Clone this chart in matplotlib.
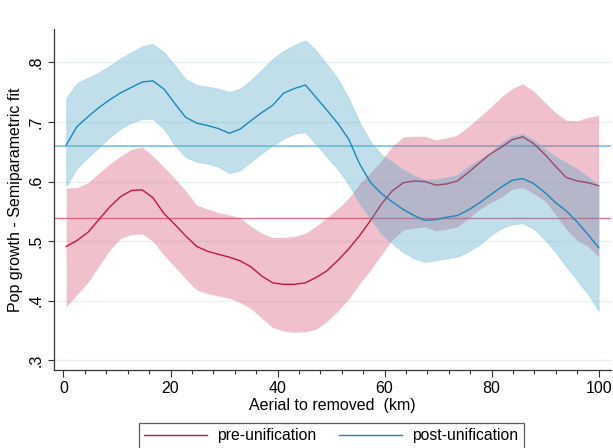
import matplotlib
matplotlib.use('Agg')
import numpy as np
import matplotlib.pyplot as plt
from matplotlib.lines import Line2D

plt.rcParams['font.family'] = ['Liberation Sans', 'DejaVu Sans']

# distance grid (km)
dist = [0.5, 2.5, 4.6, 6.6, 8.6, 10.7, 12.7, 14.7, 16.7, 18.8,
        20.8, 22.8, 24.9, 26.9, 28.9, 31.0, 33.0, 35.0, 37.1, 39.1,
        41.1, 43.1, 45.2, 47.2, 49.2, 51.3, 53.3, 55.3, 57.4, 59.4,
        61.4, 63.5, 65.5, 67.5, 69.6, 71.6, 73.6, 75.6, 77.7, 79.7,
        81.7, 83.8, 85.8, 87.8, 89.9, 91.9, 93.9, 96.0, 98.0, 100.0]

# pre-unification fit and 95% band
pre_fit = [0.491, 0.501, 0.515, 0.536, 0.557, 0.575, 0.585, 0.586, 0.573, 0.546,
           0.528, 0.509, 0.491, 0.483, 0.478, 0.473, 0.467, 0.457, 0.441, 0.430,
           0.4275, 0.4275, 0.430, 0.439, 0.450, 0.468, 0.487, 0.509, 0.535, 0.562,
           0.584, 0.598, 0.601, 0.600, 0.594, 0.596, 0.601, 0.615, 0.631, 0.646,
           0.657, 0.670, 0.675, 0.664, 0.646, 0.626, 0.607, 0.601, 0.598, 0.593]
pre_hi = [0.589, 0.590, 0.598, 0.614, 0.629, 0.643, 0.654, 0.658, 0.643, 0.624,
          0.605, 0.585, 0.560, 0.554, 0.548, 0.544, 0.539, 0.525, 0.513, 0.506,
          0.506, 0.508, 0.513, 0.525, 0.539, 0.555, 0.572, 0.596, 0.615, 0.635,
          0.659, 0.675, 0.676, 0.676, 0.670, 0.673, 0.678, 0.692, 0.708, 0.724,
          0.741, 0.756, 0.764, 0.752, 0.733, 0.716, 0.703, 0.702, 0.708, 0.711]
pre_lo = [0.390, 0.410, 0.431, 0.458, 0.484, 0.505, 0.511, 0.512, 0.500, 0.476,
          0.457, 0.437, 0.418, 0.412, 0.408, 0.404, 0.397, 0.387, 0.370, 0.355,
          0.349, 0.347, 0.348, 0.352, 0.365, 0.383, 0.403, 0.428, 0.452, 0.477,
          0.502, 0.519, 0.522, 0.524, 0.517, 0.520, 0.524, 0.538, 0.553, 0.564,
          0.573, 0.587, 0.590, 0.580, 0.568, 0.545, 0.520, 0.501, 0.491, 0.474]

# post-unification fit and 95% band
post_fit = [0.661, 0.692, 0.709, 0.724, 0.737, 0.749, 0.758, 0.767, 0.769, 0.755,
            0.731, 0.708, 0.698, 0.694, 0.689, 0.681, 0.688, 0.702, 0.716, 0.728,
            0.748, 0.756, 0.762, 0.741, 0.720, 0.697, 0.671, 0.630, 0.598, 0.580,
            0.566, 0.553, 0.543, 0.535, 0.536, 0.540, 0.543, 0.552, 0.564, 0.577,
            0.590, 0.602, 0.605, 0.597, 0.582, 0.565, 0.551, 0.532, 0.511, 0.489]
post_hi = [0.740, 0.765, 0.774, 0.783, 0.794, 0.807, 0.817, 0.827, 0.831, 0.817,
           0.795, 0.772, 0.762, 0.759, 0.756, 0.750, 0.756, 0.770, 0.788, 0.806,
           0.819, 0.829, 0.837, 0.820, 0.797, 0.772, 0.740, 0.700, 0.667, 0.645,
           0.633, 0.620, 0.610, 0.603, 0.604, 0.607, 0.611, 0.625, 0.637, 0.649,
           0.664, 0.676, 0.680, 0.670, 0.655, 0.642, 0.632, 0.621, 0.608, 0.594]
post_lo = [0.592, 0.622, 0.641, 0.657, 0.674, 0.689, 0.699, 0.705, 0.705, 0.688,
           0.661, 0.641, 0.633, 0.630, 0.625, 0.614, 0.619, 0.633, 0.648, 0.660,
           0.672, 0.680, 0.683, 0.662, 0.642, 0.620, 0.595, 0.563, 0.537, 0.512,
           0.496, 0.481, 0.471, 0.465, 0.468, 0.471, 0.474, 0.482, 0.494, 0.509,
           0.521, 0.528, 0.530, 0.521, 0.503, 0.482, 0.458, 0.434, 0.411, 0.383]

# sample means
pre_mean = 0.539
post_mean = 0.660

yticks = [0.3, 0.4, 0.5, 0.6, 0.7, 0.8]
ytick_labels = ['.3', '.4', '.5', '.6', '.7', '.8']
xticks = [0, 20, 40, 60, 80, 100]

pre_col = '#c8143f'
post_col = '#1a87bd'

fig = plt.figure(figsize=(6.13, 4.48), dpi=100)
ax = fig.add_axes([0.0876, 0.1741, 0.9091, 0.7612])

for y in yticks:
    ax.axhline(y, color='#e9f1f2', lw=1.0, zorder=0)
ax.axhline(pre_mean, color='#d9738f', lw=1.0, zorder=1)
ax.axhline(post_mean, color='#8ccbe0', lw=1.4, zorder=1)

ax.fill_between(dist, pre_lo, pre_hi, color='#d44b70', alpha=0.35, lw=0, zorder=2)
ax.plot(dist, pre_fit, color=pre_col, lw=1.0, zorder=3)
ax.fill_between(dist, post_lo, post_hi, facecolor='#4ba6c6', alpha=0.35,
                edgecolor='#7cc3dc', lw=0.8, zorder=4)
ax.plot(dist, post_fit, color=post_col, lw=1.0, zorder=5)

ax.set_xlim(-1.83, 102.3)
ax.set_ylim(0.2837, 0.856)

for s in ['top', 'right']:
    ax.spines[s].set_visible(False)
for s in ['left', 'bottom']:
    ax.spines[s].set_color('#333333')
    ax.spines[s].set_linewidth(0.9)

ax.set_xticks(xticks)
ax.set_xticks(np.arange(0, 101, 4), minor=True)
ax.set_yticks(yticks)
ax.set_yticklabels(ytick_labels, rotation=90, va='center')
ax.tick_params(axis='x', which='major', length=5, width=0.8, color='#333333',
               labelsize=11.5, pad=3)
ax.tick_params(axis='x', which='minor', length=2.6, width=0.8, color='#333333')
ax.tick_params(axis='y', which='major', length=4, width=0.8, color='#333333',
               labelsize=11.5, pad=3)

ax.set_xlabel('Aerial to removed  (km)', fontsize=11.5, labelpad=1)
ax.set_ylabel('Pop growth - Semiparametric fit', fontsize=11.5, labelpad=4)

handles = [Line2D([], [], color=pre_col, lw=1.0),
           Line2D([], [], color=post_col, lw=1.0)]
leg = fig.legend(handles, ['pre-unification', 'post-unification'],
                 loc='upper center', bbox_to_anchor=(0.5406, 0.0565), ncol=2,
                 fontsize=11.3, frameon=True, fancybox=False, handlelength=4.0,
                 handletextpad=0.65, columnspacing=1.45, borderpad=0.35,
                 borderaxespad=0)
leg.get_frame().set_edgecolor('#333333')
leg.get_frame().set_linewidth(0.9)

fig.savefig('out.png', dpi=100)
